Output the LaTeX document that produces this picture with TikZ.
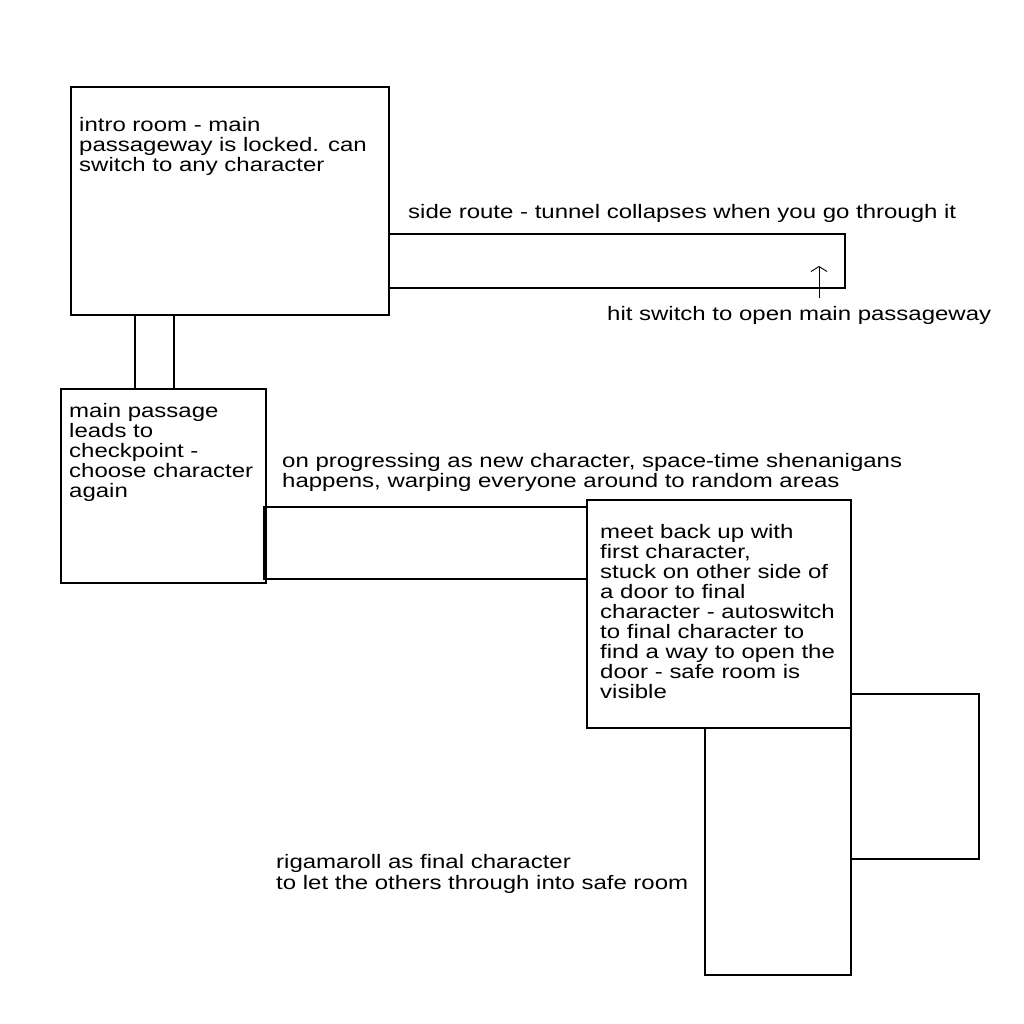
\documentclass[tikz,border=0pt]{standalone}
\usepackage{fontspec}
\setmainfont{Liberation Sans}[FakeStretch=1.23]
\usetikzlibrary{arrows.meta}
\tikzset{
  room/.style={draw=black, line width=2pt},
  txt/.style={anchor=north west, inner sep=0pt, align=left,
    font=\fontsize{19.5}{20}\selectfont, execute at begin node=\strut},
  switcharrow/.style={draw=black, line width=0.9pt, -{Straight Barb[length=5pt,width=16pt]}}
}
\begin{document}
\begin{tikzpicture}[x=1pt,y=-1pt]
\useasboundingbox[fill=white] (0,0) rectangle (1024,1024);
% rooms
\draw[room] (71,87) rectangle (389,315);
\draw[room] (389,234) rectangle (845,288);
\draw[room] (135,315) rectangle (174,389);
\draw[room] (61,389) rectangle (266,583);
\draw[room] (264,507) rectangle (587,579);
\draw[room] (587,500) rectangle (851,728);
\draw[room] (851,694) rectangle (979,859);
\draw[room] (705,728) rectangle (851,975);
% texts
\node[txt] (intro) at (79,117) {intro room - main\\passageway is locked. can\\switch to any character};
\node[txt] (side) at (408,204) {side route - tunnel collapses when you go through it};
\node[txt] (hit) at (607,306) {hit switch to open main passageway};
\node[txt] (mainp) at (69,403) {main passage\\leads to\\checkpoint -\\choose character\\again};
\node[txt] (prog) at (282,453) {on progressing as new character, space-time shenanigans\\happens, warping everyone around to random areas};
\node[txt] (meet) at (600,524) {meet back up with\\first character,\\stuck on other side of\\a door to final\\character - autoswitch\\to final character to\\find a way to open the\\door - safe room is\\visible};
\node[txt, font=\fontsize{19.5}{21}\selectfont] (riga) at (276,854) {rigamaroll as final character\\to let the others through into safe room};
% switch arrow
\coordinate (swbot) at (819,298);
\coordinate (swtop) at (819,266);
\draw[switcharrow] (swbot) -- (swtop);
\end{tikzpicture}
\end{document}
